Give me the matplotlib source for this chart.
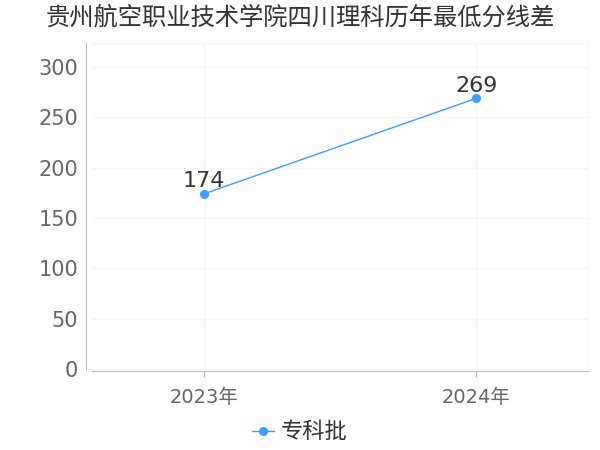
import matplotlib
matplotlib.use('Agg')
import matplotlib.pyplot as plt
from matplotlib.lines import Line2D

plt.rcParams['font.family'] = ['DejaVu Sans', 'Noto Sans CJK SC']

# data
years = ['2023年', '2024年']
scores = [174, 269]
series_name = '专科批'
title = '贵州航空职业技术学院四川理科历年最低分线差'
y_ticks = [0, 50, 100, 150, 200, 250, 300]

line_color = '#409EFF'

fig = plt.figure(figsize=(6, 4.5), dpi=100)
ax = fig.add_axes([92 / 600, 1 - 370 / 450, 496 / 600, 327 / 450])

xs = list(range(len(years)))
ax.plot(xs, scores, color=line_color, lw=1, marker='o', markersize=5.5, zorder=3)
for x, v in zip(xs, scores):
    ax.annotate(str(v), (x, v), xytext=(0, 2), textcoords='offset points',
                ha='center', va='bottom', fontsize=16, color='#333333')

ax.set_xlim(-0.41, 1.41)
ax.set_ylim(-1, 324)
ax.set_xticks(xs)
ax.set_xticklabels(years)
ax.set_yticks(y_ticks)

ax.grid(True, color='#f5f5f5', lw=1)
ax.set_axisbelow(True)

for s in ['top', 'right']:
    ax.spines[s].set_color('#f5f5f5')
ax.spines['left'].set_position(('outward', 4))
ax.spines['left'].set_color('#bbbbbb')
ax.spines['bottom'].set_position(('outward', 1))
ax.spines['bottom'].set_color('#bbbbbb')

ax.tick_params(axis='y', length=0, pad=6, labelsize=15, labelcolor='#666666')
ax.tick_params(axis='x', length=4, color='#bbbbbb', pad=8, labelsize=14, labelcolor='#666666')

fig.text(0.5, 1 - 18 / 450, title, ha='center', va='center', fontsize=17.5,
         color='#333333', family=['Noto Sans CJK SC', 'DejaVu Sans'])

handle = Line2D([], [], color=line_color, lw=1, marker='o', markersize=5.5)
fig.legend([handle], [series_name], loc='center', bbox_to_anchor=(0.5, 1 - 432 / 450),
           frameon=False, handlelength=1.0, handletextpad=0.3,
           prop={'family': ['Noto Sans CJK SC', 'DejaVu Sans'], 'size': 16},
           labelcolor='#333333')

fig.savefig('out.png', dpi=100)
